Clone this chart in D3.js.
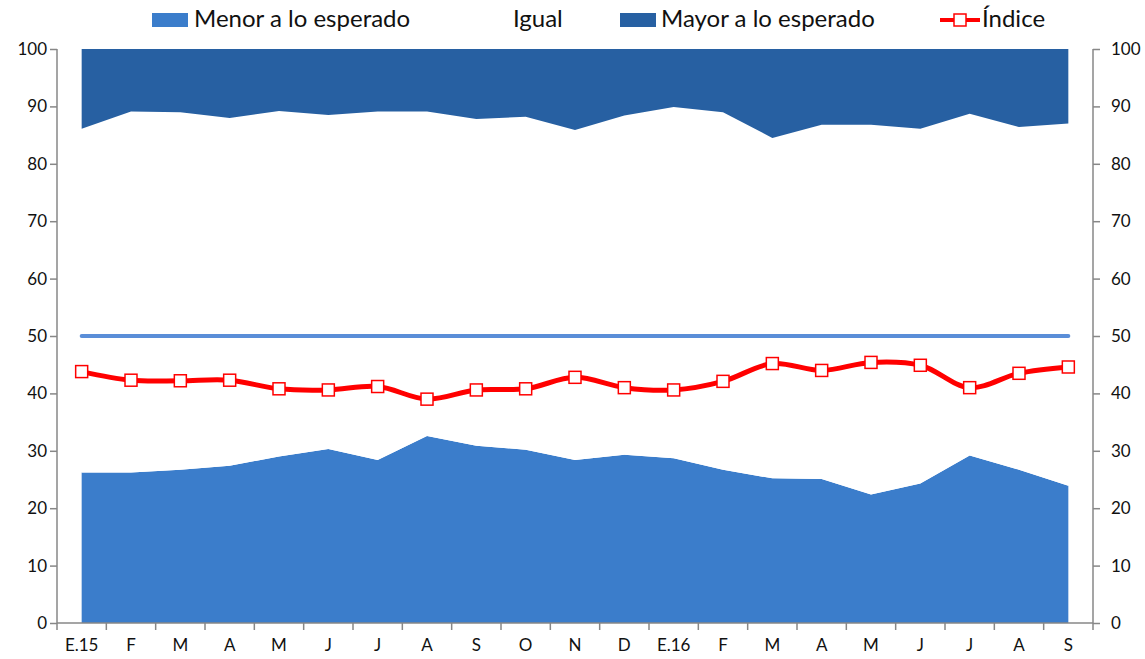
<!DOCTYPE html>
<html>
<head>
<meta charset="utf-8">
<script src="https://cdn.jsdelivr.net/npm/d3@7"></script>
<style>
  body { margin: 0; background: #fff; }
  text { font-family: Lato, "Open Sans", sans-serif; fill: #111; }
  .axis path, .axis line { stroke: #878787; stroke-width: 1.5; }
  .axis text { font-size: 17px; fill: #111; }
</style>
</head>
<body>
<div class="chart"></div>
<script>
// months (jan 2015 - sep 2016)
var months = ["E.15", "F", "M", "A", "M", "J", "J", "A", "S", "O", "N", "D",
  "E.16", "F", "M", "A", "M", "J", "J", "A", "S"];

var menor = [26.2, 26.2, 26.7, 27.4, 29.0, 30.3, 28.4, 32.6, 30.9, 30.2, 28.4, 29.3,
  28.7, 26.7, 25.2, 25.1, 22.4, 24.3, 29.2, 26.7, 23.9];
var igual = [59.9, 62.9, 62.3, 60.6, 60.2, 58.2, 60.7, 56.5, 56.9, 58.0, 57.5, 59.1,
  61.2, 62.3, 59.3, 61.7, 64.4, 61.8, 59.5, 59.7, 63.1];
var mayor = [13.9, 10.9, 11.0, 12.0, 10.8, 11.5, 10.9, 10.9, 12.2, 11.8, 14.1, 11.6,
  10.1, 11.0, 15.5, 13.2, 13.2, 13.9, 11.3, 13.6, 13.0];
var indice = [43.8, 42.3, 42.2, 42.3, 40.8, 40.6, 41.2, 39.0, 40.6, 40.8, 42.8, 41.0,
  40.6, 42.1, 45.2, 44.0, 45.4, 44.9, 41.0, 43.5, 44.6];

var yTicks = [0, 10, 20, 30, 40, 50, 60, 70, 80, 90, 100];
var referencia = 50;

var svgWidth = 1145;
var svgHeight = 659;

var margin = { top: 49, right: 52, bottom: 36, left: 57 };
var width = svgWidth - margin.left - margin.right;
var height = svgHeight - margin.top - margin.bottom;

var svg = d3.select(".chart")
  .append("svg")
  .attr("width", svgWidth)
  .attr("height", svgHeight);

var chartGroup = svg.append("g")
  .attr("transform", `translate(${margin.left}, ${margin.top})`);

var rows = months.map(function(m, i) {
  return { i: i, menor: menor[i], igual: igual[i], mayor: mayor[i], indice: indice[i] };
});

var xScale = d3.scaleBand()
  .domain(d3.range(months.length))
  .range([0, width]);

var xc = i => xScale(i) + xScale.bandwidth() / 2;

var yScale = d3.scaleLinear()
  .domain([0, 100])
  .range([height, 0]);

var stack = d3.stack().keys(["menor", "igual", "mayor"]);
var series = stack(rows);

var colors = { menor: "#3b7dcb", igual: "#ffffff", mayor: "#2760a2" };

var area = d3.area()
  .x(d => xc(d.data.i))
  .y0(d => yScale(d[0]))
  .y1(d => yScale(d[1]));

chartGroup.selectAll(".layer")
  .data(series)
  .enter()
  .append("path")
  .attr("class", "layer")
  .attr("fill", d => colors[d.key])
  .attr("d", area);

// reference line at 50
chartGroup.append("line")
  .attr("x1", xc(0))
  .attr("x2", xc(months.length - 1))
  .attr("y1", yScale(referencia))
  .attr("y2", yScale(referencia))
  .attr("stroke", "#5a8ed8")
  .attr("stroke-width", 4)
  .attr("stroke-linecap", "round");

// axes
var leftAxis = d3.axisLeft(yScale).tickValues(yTicks).tickSize(7).tickPadding(3);
var rightAxis = d3.axisRight(yScale).tickValues(yTicks).tickSize(7).tickPadding(11);
var bottomAxis = d3.axisBottom(xScale)
  .tickFormat(i => months[i])
  .tickSize(0)
  .tickPadding(16);

chartGroup.append("g")
  .attr("class", "axis")
  .call(leftAxis)
  .call(g => g.select(".domain").attr("d", `M0,0V${height}`));

chartGroup.append("g")
  .attr("class", "axis")
  .attr("transform", `translate(${width}, 0)`)
  .call(rightAxis)
  .call(g => g.select(".domain").attr("d", `M0,0V${height}`));

var xAxis = chartGroup.append("g")
  .attr("class", "axis")
  .attr("transform", `translate(0, ${height})`)
  .call(bottomAxis);
xAxis.select(".domain").attr("d", `M0,0H${width}`);
xAxis.selectAll(".tick text").attr("font-size", 16);

// x ticks on band boundaries
xAxis.selectAll(".boundary")
  .data(d3.range(months.length + 1))
  .enter()
  .append("line")
  .attr("x1", i => i * xScale.bandwidth())
  .attr("x2", i => i * xScale.bandwidth())
  .attr("y1", 0)
  .attr("y2", 7);

// indice line
var line = d3.line()
  .x(d => xc(d.i))
  .y(d => yScale(d.indice))
  .curve(d3.curveCatmullRom.alpha(0.5));

chartGroup.append("path")
  .datum(rows)
  .attr("fill", "none")
  .attr("stroke", "#ff0000")
  .attr("stroke-width", 5)
  .attr("d", line);

chartGroup.selectAll(".marker")
  .data(rows)
  .enter()
  .append("rect")
  .attr("class", "marker")
  .attr("x", d => xc(d.i) - 6)
  .attr("y", d => yScale(d.indice) - 6)
  .attr("width", 12)
  .attr("height", 12)
  .attr("fill", "#fff")
  .attr("stroke", "#ff0000")
  .attr("stroke-width", 1.5);

// legend
var legend = svg.append("g");
var legendItems = [
  { label: "Menor a lo esperado", color: colors.menor, x: 152, tx: 194 },
  { label: "Igual", color: colors.igual, x: 471, tx: 513 },
  { label: "Mayor a lo esperado", color: colors.mayor, x: 620, tx: 661 }
];

legendItems.forEach(function(item) {
  legend.append("rect")
    .attr("x", item.x)
    .attr("y", 13)
    .attr("width", 36)
    .attr("height", 14)
    .attr("fill", item.color);
  legend.append("text")
    .attr("x", item.tx)
    .attr("y", 27)
    .attr("font-size", 24)
    .text(item.label);
});

legend.append("line")
  .attr("x1", 940)
  .attr("x2", 980)
  .attr("y1", 20)
  .attr("y2", 20)
  .attr("stroke", "#ff0000")
  .attr("stroke-width", 4);
legend.append("rect")
  .attr("x", 954)
  .attr("y", 14)
  .attr("width", 12)
  .attr("height", 12)
  .attr("fill", "#fff")
  .attr("stroke", "#ff0000")
  .attr("stroke-width", 1.5);
legend.append("text")
  .attr("x", 982)
  .attr("y", 27)
  .attr("font-size", 24)
  .text("Índice");
</script>
</body>
</html>
